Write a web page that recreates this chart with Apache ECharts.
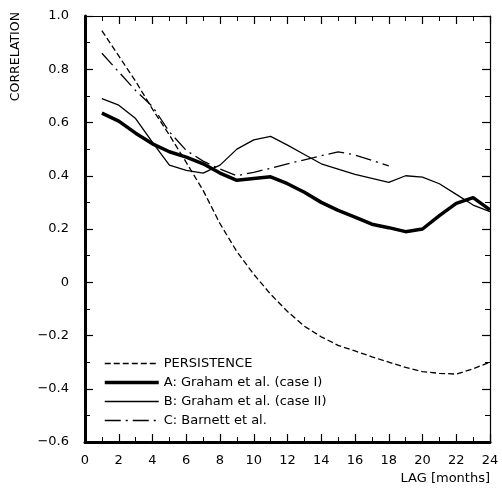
<!DOCTYPE html>
<html><head><meta charset="utf-8">
<script src="https://cdn.jsdelivr.net/npm/echarts@6/dist/echarts.min.js"></script>
<style>html,body{margin:0;padding:0;background:#fff}#c{width:502px;height:489px}</style>
</head><body><div id="c"></div>
<script>
var lags = [1,2,3,4,5,6,7,8,9,10,11,12,13,14,15,16,17,18,19,20,21,22,23,24];
var persistence = [0.945,0.85,0.755,0.65,0.553,0.45,0.345,0.22,0.115,0.03,-0.045,-0.11,-0.165,-0.205,-0.237,-0.258,-0.28,-0.30,-0.32,-0.336,-0.342,-0.345,-0.325,-0.30];
var caseI = [0.635,0.605,0.56,0.52,0.49,0.47,0.445,0.41,0.383,0.39,0.396,0.37,0.338,0.30,0.27,0.245,0.218,0.205,0.19,0.20,0.25,0.296,0.318,0.272];
var caseII = [0.69,0.665,0.615,0.525,0.44,0.42,0.41,0.44,0.50,0.535,0.548,0.515,0.48,0.445,0.425,0.405,0.39,0.375,0.40,0.395,0.37,0.33,0.29,0.265];
var barnettLags = [1,2,3,4,5,6,7,8,9,10,11,12,13,14,15,16,17,18];
var barnett = [0.86,0.79,0.72,0.66,0.565,0.495,0.455,0.425,0.40,0.413,0.428,0.445,0.46,0.475,0.49,0.478,0.458,0.437];
var names = ['PERSISTENCE','A: Graham et al. (case I)','B: Graham et al. (case II)','C: Barnett et al.'];
var xTicks = {min:0, max:24, interval:2};
var yTicks = {min:-0.6, max:1.0, interval:0.2};

function pairs(xs, ys){ return xs.map(function(x,i){ return [x, ys[i]]; }); }
var font = '"DejaVu Sans", sans-serif';
function yFmt(v){ var r=Math.round(v*10)/10; if(r===0) return '0'; var s=Math.abs(r).toFixed(1); return (r<0?'\u2212':'')+s; }

var styles = [
  {color:'#000',width:1.3,type:[6,3]},
  {color:'#000',width:3.5,type:'solid'},
  {color:'#000',width:1.3,type:'solid'},
  {color:'#000',width:1.3,type:[16,5,2,5]}
];

var chart = echarts.init(document.getElementById('c'), null, {renderer:'canvas'});
var axisCommon = {
  axisLine:{show:true,onZero:false,lineStyle:{color:'#000',width:1.2}},
  axisTick:{show:true,inside:true,length:8,lineStyle:{color:'#000',width:1.2}},
  minorTick:{show:true,splitNumber:2,length:5,lineStyle:{color:'#000',width:1}},
  splitLine:{show:false}
};
chart.setOption({
  animation:false,
  backgroundColor:'#fff',
  grid:{left:85,right:12,top:16,bottom:47,containLabel:false},
  xAxis:[
    Object.assign({type:'value',position:'bottom',min:xTicks.min,max:xTicks.max,interval:xTicks.interval,
      axisLabel:{color:'#000',fontSize:13,fontFamily:font,margin:12}}, axisCommon,
      {axisLine:{show:true,onZero:false,lineStyle:{color:'#000',width:3}}}),
    Object.assign({type:'value',position:'top',min:xTicks.min,max:xTicks.max,interval:xTicks.interval,
      axisLabel:{show:false}}, axisCommon)
  ],
  yAxis:[
    Object.assign({type:'value',position:'left',min:yTicks.min,max:yTicks.max,interval:yTicks.interval,
      axisLabel:{color:'#000',fontSize:13,fontFamily:font,margin:16,formatter:yFmt}}, axisCommon,
      {axisLine:{show:true,onZero:false,lineStyle:{color:'#000',width:3}}}),
    Object.assign({type:'value',position:'right',min:yTicks.min,max:yTicks.max,interval:yTicks.interval,
      axisLabel:{show:false}}, axisCommon)
  ],
  legend:{
    orient:'vertical',left:98,top:352,itemWidth:54,itemHeight:10,itemGap:6,
    itemStyle:{opacity:0},
    textStyle:{color:'#000',fontSize:13,fontFamily:font},
    data:names.map(function(n,i){return {name:n,lineStyle:styles[i],itemStyle:{opacity:0}};})
  },
  graphic:[
    {type:'text',left:9,top:12,rotation:Math.PI/2,style:{text:'CORRELATION',fill:'#000',font:'12.5px '+font}},
    {type:'text',right:12,top:472,style:{text:'LAG [months]',fill:'#000',font:'13px '+font}}
  ],
  series:[
    {name:names[0],type:'line',data:pairs(lags,persistence),symbol:'none',lineStyle:styles[0],itemStyle:{color:'#000'}},
    {name:names[1],type:'line',data:pairs(lags,caseI),symbol:'none',lineStyle:styles[1],itemStyle:{color:'#000'}},
    {name:names[2],type:'line',data:pairs(lags,caseII),symbol:'none',lineStyle:styles[2],itemStyle:{color:'#000'}},
    {name:names[3],type:'line',data:pairs(barnettLags,barnett),symbol:'none',lineStyle:styles[3],itemStyle:{color:'#000'}}
  ]
});
</script></body></html>
